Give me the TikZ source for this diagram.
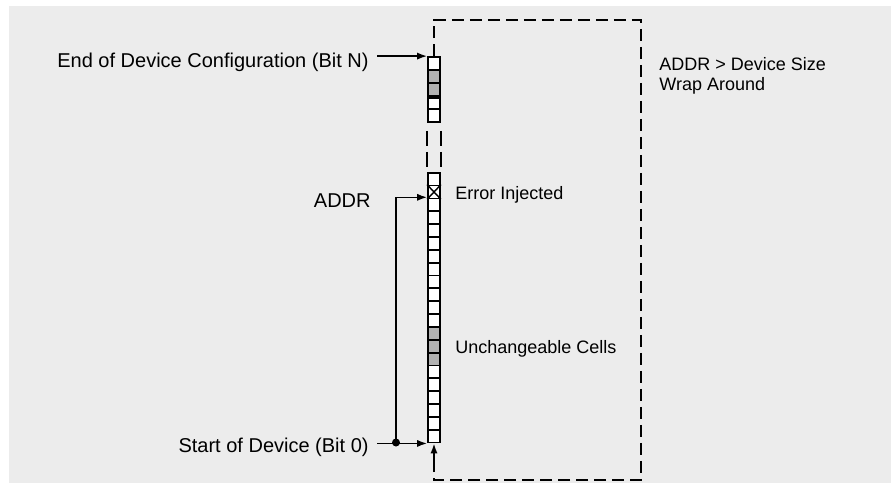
\documentclass[tikz,border=0pt]{standalone}
\usepackage{fontspec}
\setmainfont{Liberation Sans}
\usetikzlibrary{positioning,arrows.meta,calc}
\definecolor{PageBg}{RGB}{236,236,236}
\definecolor{CellFixed}{RGB}{178,178,178}

\begin{document}
\begin{tikzpicture}[
  x=0.5pt, y=-0.5pt,
  >={Latex[length=5pt,width=3.6pt]},
  cell/.style={
    rectangle, draw, line width=0.9pt, fill=white,
    inner sep=0pt, minimum width=6pt, minimum height=6.425pt
  },
  topcell/.style={cell, minimum height=6.5pt},
  lbl/.style={inner sep=0pt, font=\fontsize{10}{12}\selectfont},
  note/.style={inner sep=0pt, font=\fontsize{9}{10}\selectfont, align=left},
  arrow/.style={->, line width=0.8pt},
  wrap/.style={line width=0.8pt, dash pattern=on 6pt off 3pt},
  gapline/.style={line width=0.8pt, dash pattern=on 7.5pt off 3pt},
  tap/.style={circle, fill, inner sep=0pt, minimum size=4pt}
]

\useasboundingbox (0,0) rectangle (891,483);
\fill[PageBg] (9,6) rectangle (891,483);

% Top of the device configuration
\foreach \i/\c in {1/white,2/CellFixed,3/CellFixed,4/white,5/white}
  \node[topcell, fill=\c] (top\i) at (434,50.5+13*\i) {};
\draw[line width=1.8pt] (top3.south west) -- (top3.south east);

% Bottom of the device, bit 0 is cell21
\foreach \i in {1,...,21}{
  \pgfmathtruncatemacro{\isfixed}{and(\i>12,\i<16)}
  \ifnum\isfixed=1 \def\cellcol{CellFixed}\else\def\cellcol{white}\fi
  \node[cell, fill=\cellcol] (cell\i) at (434,166.275+12.85*\i) {};
}
\draw[line width=0.7pt] (cell2.north west) -- (cell2.south east)
  (cell2.north east) -- (cell2.south west);

% Break in the column
\draw[gapline] ([yshift=-4pt]top5.south west) -- ([yshift=2.5pt]cell1.north west);
\draw[gapline] ([yshift=-4pt]top5.south east) -- ([yshift=2.5pt]cell1.north east);

% Labels
\node[lbl, anchor=base east] (endcfg) at (369,67) {End of Device Configuration (Bit N)};
\node[lbl, anchor=base east] (addr) at (371,207) {ADDR};
\node[lbl, anchor=base east] (start) at (369,452) {Start of Device (Bit 0)};
\node[note, anchor=base west] (errinj) at (455,199) {Error Injected};
\node[note, anchor=base west] (fixedlbl) at (455,353) {Unchangeable Cells};
\node[note, anchor=north west] (wraplbl) at (659,57) {ADDR > Device Size\\Wrap Around};

% --- edges ---
\draw[arrow, shorten <=4pt] (endcfg.east |- top1.north) -- (top1.north west);
\draw[arrow, shorten <=4pt] (start.east |- cell21.south) -- (cell21.south west);
\node[tap] (split) at (396,442.5) {};
\draw[arrow] (split.center) |- ([yshift=1pt]cell2.south west);

% Wrap around path
\coordinate (wrapTR) at (641,20);
\coordinate (wrapBR) at (641,480);
\coordinate (wrapIn) at (434,471);
\draw[wrap] (top1.north) |- (wrapTR) -- (wrapBR) -| (wrapIn);
\draw[arrow] (wrapIn) -- (cell21.south);

\end{tikzpicture}
\end{document}
